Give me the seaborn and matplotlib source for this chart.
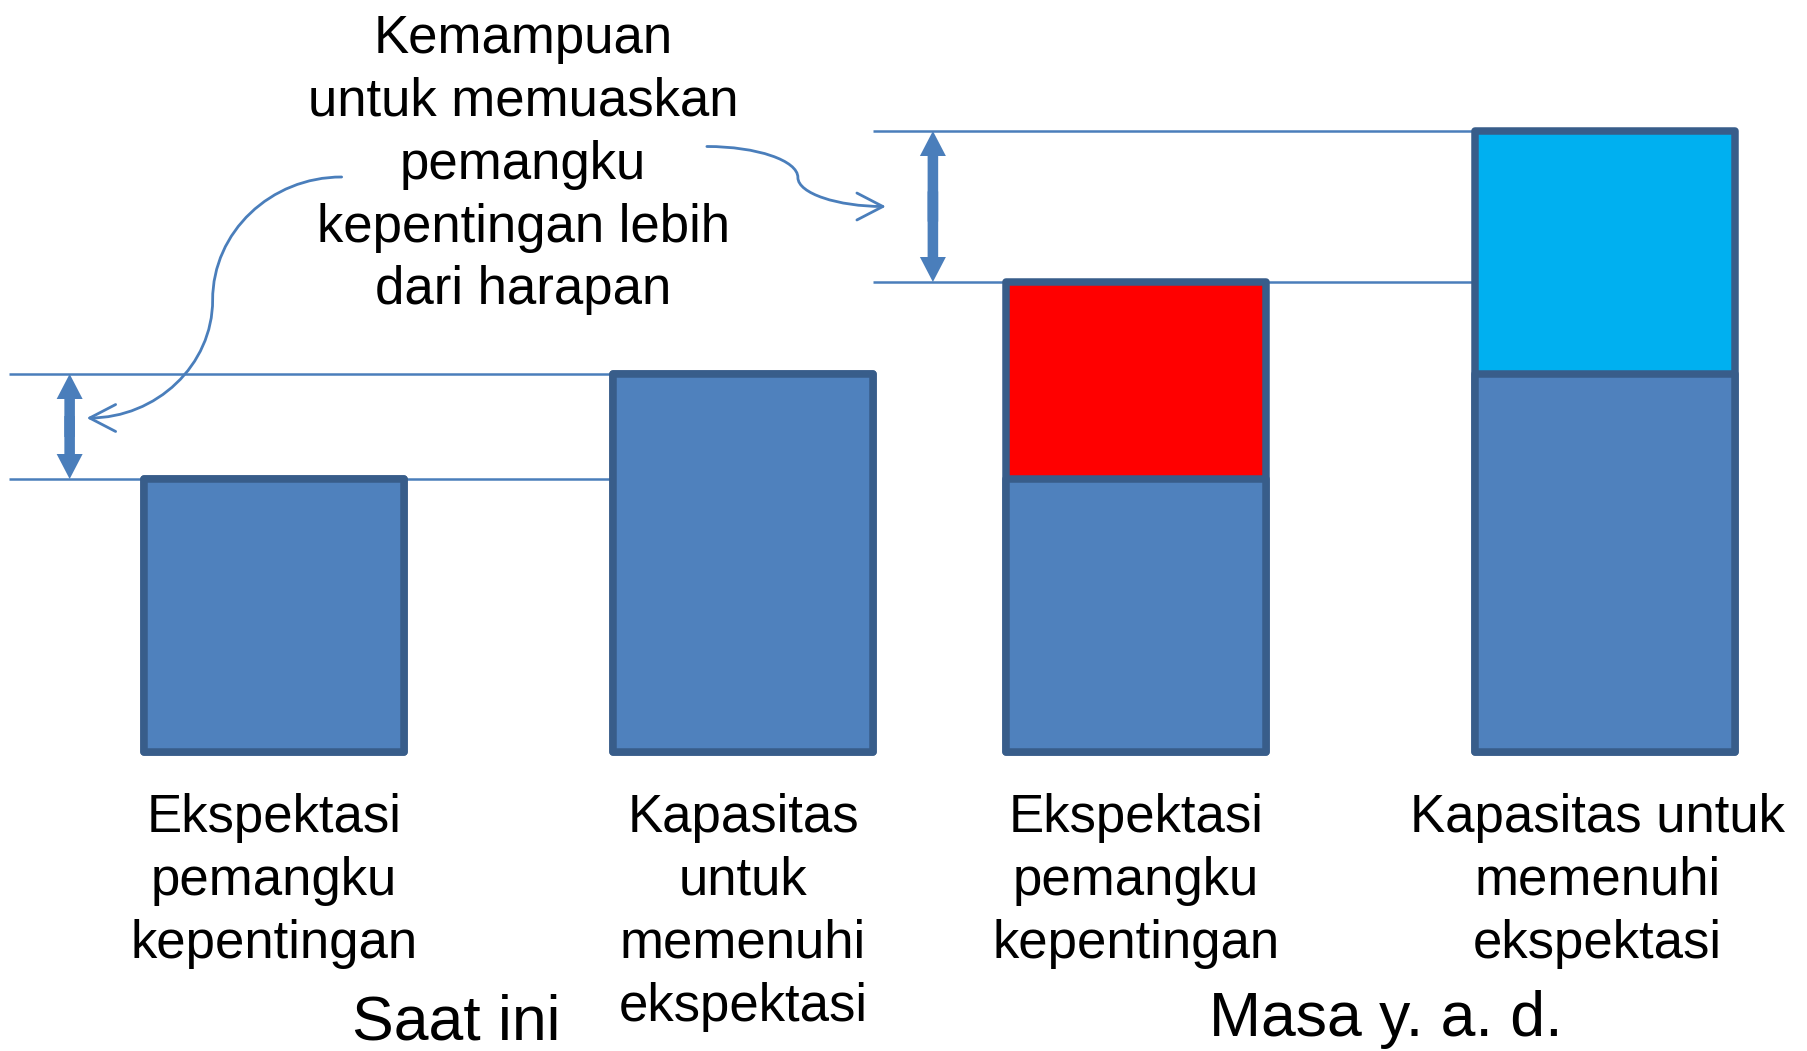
import numpy as np
import pandas as pd
import matplotlib.pyplot as plt
import matplotlib.transforms as mtransforms
from matplotlib.path import Path
from matplotlib.patches import FancyArrowPatch
import seaborn as sns

# data
periods = ['Saat ini', 'Masa y. a. d.']
kinds = ['Ekspektasi', 'Kapasitas']
bar_labels = ['Ekspektasi\npemangku\nkepentingan',
              'Kapasitas\nuntuk\nmemenuhi\nekspektasi',
              'Ekspektasi\npemangku\nkepentingan',
              'Kapasitas untuk\nmemenuhi\nekspektasi']
now_level = [2.73, 3.78]      # ekspektasi, kapasitas (saat ini)
future_level = [4.70, 6.21]   # ekspektasi, kapasitas (masa y.a.d.)
note = 'Kemampuan\nuntuk memuaskan\npemangku\nkepentingan lebih\ndari harapan'

blue = '#4F81BD'
edge = '#385D8A'
line_c = '#4A7EBB'
top_colors = ['#FF0000', '#00B0F0']

df = pd.DataFrame({
    'period': np.repeat(periods, 2),
    'kind': kinds * 2,
    'total': now_level + future_level,
    'base': now_level + now_level,
})

sns.set_theme(style='white')
plt.rcParams['font.family'] = ['Liberation Sans', 'DejaVu Sans']
plt.rcParams['text.color'] = 'black'

fig = plt.figure(figsize=(18.08, 10.51), dpi=100)
ax = fig.add_axes([0, 0, 1, 1])

bar_kw = dict(x='period', hue='kind', order=periods, hue_order=kinds,
              width=1.088, gap=0.446, errorbar=None, legend=False, saturation=1,
              edgecolor=edge, linewidth=5.4, ax=ax)
# top part (future increase) first, then the current level on top of it
sns.barplot(data=df, y='total', palette=top_colors, **bar_kw)
sns.barplot(data=df, y='base', palette=[blue, blue], **bar_kw)
for p in ax.patches:
    p.set_joinstyle('round')

ax.set_xlim(-0.590, 1.5075)
ax.set_ylim(-2.99, 7.52)
ax.set_axis_off()

rects = sorted({(round(p.get_x(), 5), round(p.get_width(), 5)) for p in ax.patches})
lefts = [r[0] for r in rects]
rights = [r[0] + r[1] for r in rects]
centers = [r[0] + r[1] / 2 for r in rects]

# guide lines
x0 = ax.get_xlim()[0] + 0.01
ax.hlines(now_level, x0, lefts[1], color=line_c, lw=1.8, zorder=0.5)
ax.hlines(future_level, rights[1], lefts[3], color=line_c, lw=1.8, zorder=0.5)


def double_arrow(x, lo, hi):
    mid = (lo + hi) / 2
    overlap = (hi - lo) * 0.1
    for end, start in ((lo, mid + overlap), (hi, mid - overlap)):
        ax.annotate('', xy=(x, end), xytext=(x, start),
                    arrowprops=dict(arrowstyle='simple,head_length=18,head_width=18.7,tail_width=7.6',
                                    mutation_scale=1, color=line_c, lw=0,
                                    shrinkA=0, shrinkB=0))


ax_left = x0 + 0.45 * (lefts[0] - x0)
ax_right = rights[1] + 0.45 * (lefts[2] - rights[1])
double_arrow(ax_left, now_level[0], now_level[1])
double_arrow(ax_right, future_level[0], future_level[1])


def curved(ref, verts):
    # verts are pixel offsets (y down) from ref point
    tx, ty = ax.transData.transform(ref)
    trans = mtransforms.Affine2D().scale(1, -1).translate(tx, ty)
    codes = [Path.MOVETO] + [Path.CURVE4] * (len(verts) - 1)
    arr = FancyArrowPatch(path=Path(verts, codes),
                          arrowstyle='->,head_length=18.7,head_width=9.7',
                          mutation_scale=1, color=line_c, lw=2.0, transform=trans)
    arr.set_clip_on(False)
    ax.add_artist(arr)


curved((ax_left, np.mean(now_level)),
       [(272, -249.5), (201, -249.5), (143, -194.5), (143, -126.5),
        (143, -61.5), (87, -8.5), (17, -8.5)])
curved((ax_right, np.mean(future_level)),
       [(-226, -60), (-176, -60), (-135, -46), (-135, -29),
        (-135, -13), (-95, 0), (-47, 0)])

# texts
ax.text(0.017, 7.38, note, ha='center', va='top', fontsize=38, linespacing=1.33)
label_shift = [0, 0, 0, -0.009]
for cx, dx, lab in zip(centers, label_shift, bar_labels):
    ax.text(cx + dx, -0.41, lab, ha='center', va='top', fontsize=38, linespacing=1.33)
ax.text(-0.061, -2.42, periods[0], ha='center', va='top', fontsize=45)
ax.text(1.018, -2.38, periods[1], ha='center', va='top', fontsize=45)

fig.savefig('out.png', dpi=100, facecolor='white')
